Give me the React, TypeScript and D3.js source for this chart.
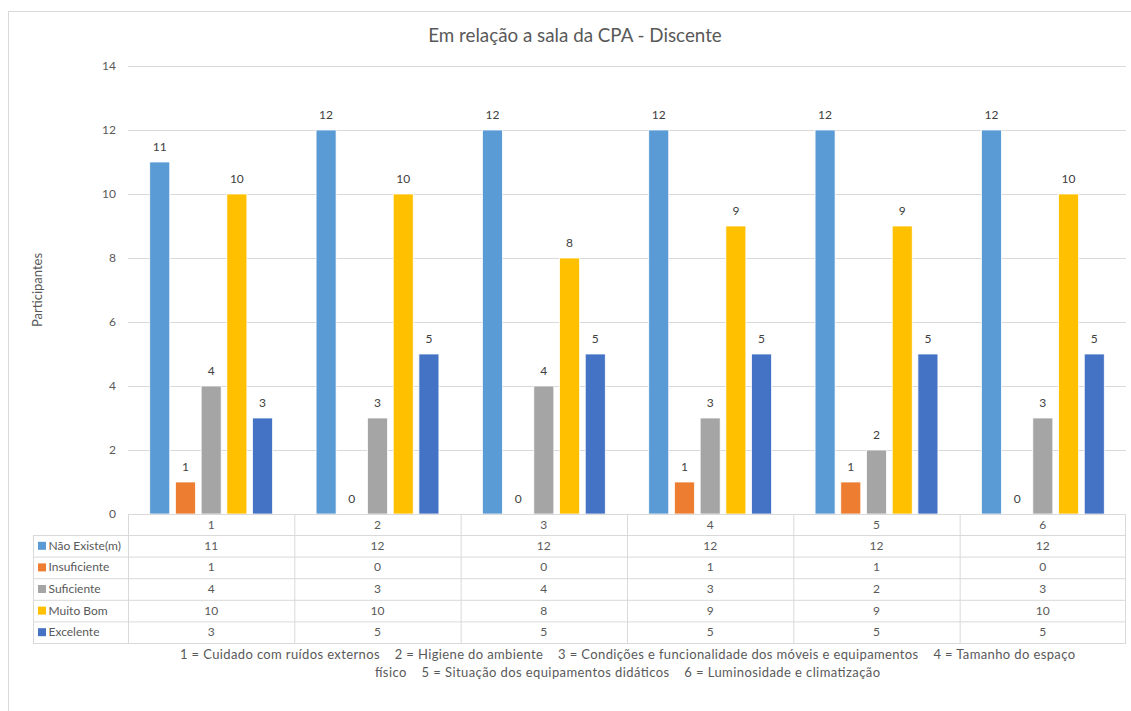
import React from 'react';
import * as d3 from 'd3';

const categories = ['1', '2', '3', '4', '5', '6'];
const seriesNames = ['Não Existe(m)', 'Insuficiente', 'Suficiente', 'Muito Bom', 'Excelente'];
const naoExiste = [11, 12, 12, 12, 12, 12];
const insuficiente = [1, 0, 0, 1, 1, 0];
const suficiente = [4, 3, 4, 3, 2, 3];
const muitoBom = [10, 10, 8, 9, 9, 10];
const excelente = [3, 5, 5, 5, 5, 5];
const seriesColors = ['#5B9BD5', '#ED7D31', '#A5A5A5', '#FFC000', '#4472C4'];
const yTicks = [0, 2, 4, 6, 8, 10, 12, 14];
const title = 'Em relação a sala da CPA - Discente';
const yTitle = 'Participantes';
const footLine1 = '1 = Cuidado com ruídos externos    2 = Higiene do ambiente    3 = Condições e funcionalidade dos móveis e equipamentos    4 = Tamanho do espaço';
const footLine2 = 'físico    5 = Situação dos equipamentos didáticos    6 = Luminosidade e climatização';

const seriesValues = [naoExiste, insuficiente, suficiente, muitoBom, excelente];

const W = 1131;
const H = 711;
const plotL = 128;
const plotR = 1126;
const plotT = 66;
const plotB = 514;
const FONT = 'Lato, "Open Sans", sans-serif';
const GRID = '#d9d9d9';

export default function App() {
  const x = d3.scaleBand<string>().domain(categories).range([plotL, plotR]).padding(0);
  const xs = d3
    .scaleBand<string>()
    .domain(seriesNames)
    .range([0, x.bandwidth()])
    .paddingInner(0.222)
    .paddingOuter(0.846);
  const y = d3.scaleLinear().domain([0, 14]).range([plotB, plotT]);

  const legendL = 33;
  const rowH = 21.6;
  const headerB = plotB + 21;
  const rowY = (i: number) => headerB + i * rowH;
  const tableB = rowY(5);

  return (
    <svg
      width={W}
      height={H}
      style={{ position: 'absolute', left: 0, top: 0, background: '#fff' }}
      fontFamily={FONT}
    >
      <rect x={0} y={0} width={W} height={H} fill="#fff" />
      <rect x={8.5} y={11.5} width={W + 20} height={H + 20} fill="none" stroke={GRID} />
      <text x={575} y={42} textAnchor="middle" fontSize={18.8} fill="#595959">
        {title}
      </text>
      <text
        transform={`translate(42,${290}) rotate(-90)`}
        textAnchor="middle"
        fontSize={13}
        fill="#595959"
      >
        {yTitle}
      </text>
      {yTicks.map((t) => (
        <g key={t}>
          {t > 0 && (
            <line x1={plotL} x2={plotR} y1={y(t) + 0.5} y2={y(t) + 0.5} stroke={GRID} strokeWidth={1} />
          )}
          <text x={116} y={y(t) + 4} textAnchor="end" fontSize={12} fill="#595959">
            {t}
          </text>
        </g>
      ))}
      {categories.map((c, ci) => (
        <g key={c} transform={`translate(${x(c)},0)`}>
          {seriesNames.map((s, si) => {
            const v = seriesValues[si][ci];
            const bx = xs(s)!;
            return (
              <g key={s}>
                {v > 0 && (
                  <rect
                    x={bx}
                    y={y(v)}
                    width={xs.bandwidth()}
                    height={plotB - y(v)}
                    fill={seriesColors[si]}
                    stroke="#fff"
                    strokeWidth={0.75}
                  />
                )}
                <text
                  x={bx + xs.bandwidth() / 2}
                  y={y(v) - 11}
                  textAnchor="middle"
                  fontSize={12}
                  fill="#404040"
                >
                  {v}
                </text>
              </g>
            );
          })}
        </g>
      ))}
      {/* data table */}
      <g stroke={GRID} strokeWidth={1} fill="none">
        <line x1={plotL} x2={plotR} y1={plotB + 0.5} y2={plotB + 0.5} />
        {[0, 1, 2, 3, 4, 5].map((i) => (
          <line key={i} x1={legendL} x2={plotR} y1={rowY(i) + 0.5} y2={rowY(i) + 0.5} />
        ))}
        <line x1={legendL + 0.5} x2={legendL + 0.5} y1={headerB} y2={tableB} />
        {categories.map((c) => (
          <line key={c} x1={x(c)! + 0.5} x2={x(c)! + 0.5} y1={plotB} y2={tableB} />
        ))}
        <line x1={plotR - 0.5} x2={plotR - 0.5} y1={plotB} y2={tableB} />
      </g>
      {categories.map((c) => (
        <text
          key={c}
          x={x(c)! + x.bandwidth() / 2}
          y={plotB + 15}
          textAnchor="middle"
          fontSize={12}
          fill="#595959"
        >
          {c}
        </text>
      ))}
      {seriesNames.map((s, si) => (
        <g key={s}>
          <rect x={38} y={rowY(si) + rowH / 2 - 4} width={8} height={8} fill={seriesColors[si]} />
          <text x={48.5} y={rowY(si) + rowH / 2 + 4} fontSize={12} fill="#595959">
            {s}
          </text>
          {categories.map((c, ci) => (
            <text
              key={c}
              x={x(c)! + x.bandwidth() / 2}
              y={rowY(si) + rowH / 2 + 4}
              textAnchor="middle"
              fontSize={12}
              fill="#595959"
            >
              {seriesValues[si][ci]}
            </text>
          ))}
        </g>
      ))}
      <text
        x={627.5}
        y={659}
        textAnchor="middle"
        fontSize={13}
        fill="#595959"
        textLength={895}
        lengthAdjust="spacing"
        style={{ whiteSpace: 'pre' }}
      >
        {footLine1}
      </text>
      <text
        x={627.5}
        y={677}
        textAnchor="middle"
        fontSize={13}
        fill="#595959"
        textLength={505}
        lengthAdjust="spacing"
        style={{ whiteSpace: 'pre' }}
      >
        {footLine2}
      </text>
    </svg>
  );
}
